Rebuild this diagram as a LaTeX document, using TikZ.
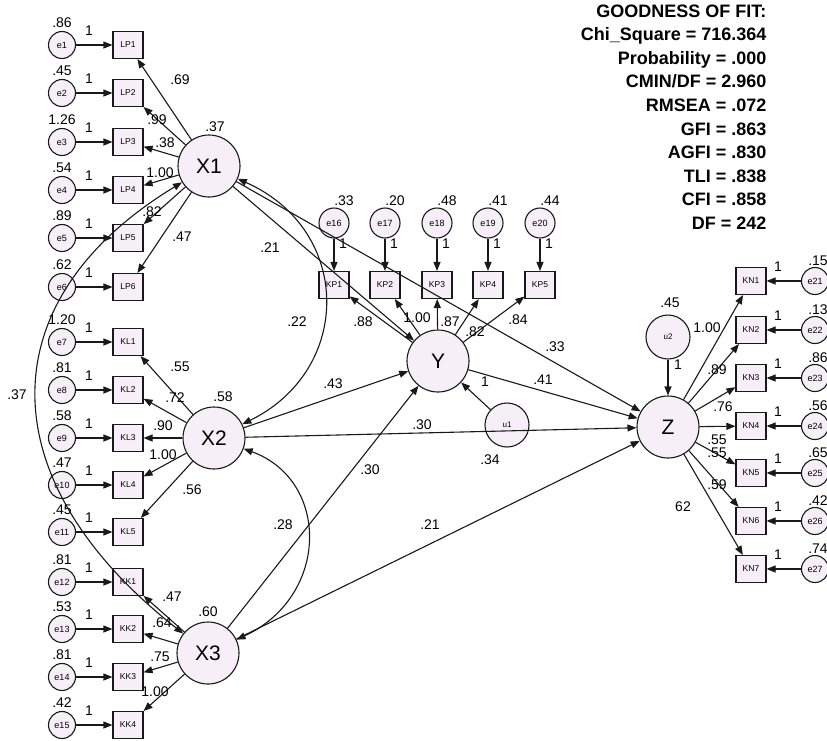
\documentclass[tikz,border=0pt]{standalone}
\usepackage{fontspec}
\setmainfont{Liberation Sans}
\usetikzlibrary{arrows.meta}
\definecolor{fillc}{RGB}{247,239,247}
\definecolor{linec}{RGB}{25,25,25}
\begin{document}
\begin{tikzpicture}[x=1pt, y=-1pt, line width=1.1pt, draw=linec,
	lat/.style = {circle, draw, fill=fillc, minimum size=62pt, inner sep=0pt, font=\fontsize{21}{24}\selectfont},
	errc/.style = {circle, draw, fill=fillc, minimum size=27pt, inner sep=0pt, font=\fontsize{9}{10}\selectfont},
	errt/.style = {errc, minimum size=30pt},
	dist/.style = {circle, draw, fill=fillc, minimum size=44pt, inner sep=0pt, font=\fontsize{8}{9}\selectfont},
	obs/.style = {rectangle, draw, fill=fillc, minimum width=30pt, minimum height=27pt, inner sep=0pt, font=\fontsize{8.5}{9}\selectfont},
	num/.style = {inner sep=0pt, font=\fontsize{14}{16}\selectfont},
	arr/.style = {draw=linec, -{Triangle[length=9pt,width=7pt]}},
	cov/.style = {draw=linec, {Triangle[length=9pt,width=7pt]}-{Triangle[length=9pt,width=7pt]}}]
	\useasboundingbox[fill=white] (0,0) rectangle (827,740);
	% latent variables
	\node[lat] (X1) at (209,166) {X1};
	\node[lat] (X2) at (214,438) {X2};
	\node[lat] (X3) at (208,653) {X3};
	\node[lat] (Y) at (438,361) {Y};
	\node[lat] (Z) at (668,427) {Z};
	\node[dist] (u1) at (507,425) {u1};
	\node[dist] (u2) at (668,337) {u2};
	\node[num] (vX1) at (215,127) {.37};
	\node[num] (vX2) at (223,397) {.58};
	\node[num] (vX3) at (208,612) {.60};
	\node[num] (vu1) at (490,460) {.34};
	\node[num] (vu2) at (670,303) {.45};
	% left indicators
	\foreach \i/\b/\yy/\v in {1/LP1/45/.86, 2/LP2/93/.45, 3/LP3/142/1.26, 4/LP4/190/.54, 5/LP5/238/.89, 6/LP6/287/.62, 7/KL1/342/1.20, 8/KL2/390/.81, 9/KL3/438/.58, 10/KL4/485/.47, 11/KL5/532/.45, 12/KK1/582/.81, 13/KK2/629/.53, 14/KK3/677/.81, 15/KK4/725/.42} {
		\node[errc] (e\i) at (62,\yy) {e\i};
		\node[obs] (\b) at (128,\yy) {\b};
		\node[num] (v\i) at (62,\yy-22) {\v};
		\node[num] (w\i) at (89,\yy-14) {1};
		\draw[arr] (e\i) -- (\b);
	}
	\foreach \b in {LP1,LP2,LP3,LP4,LP5,LP6} \draw[arr] (X1) -- (\b);
	\foreach \b in {KL1,KL2,KL3,KL4,KL5} \draw[arr] (X2) -- (\b);
	\foreach \b in {KK1,KK2,KK3,KK4} \draw[arr] (X3) -- (\b);
	% top indicators of Y
	\foreach \i/\x/\v [count=\k] in {16/334/.33, 17/385/.20, 18/437/.48, 19/488/.41, 20/540/.44} {
		\node[errt] (e\i) at (\x,223) {e\i};
		\node[obs] (KP\k) at (\x,285) {KP\k};
		\node[num] (v\i) at (\x+10,201) {\v};
		\node[num] (w\i) at (\x+9,244) {1};
		\draw[arr] (e\i) -- (KP\k);
		\draw[arr] (Y) -- (KP\k);
	}
	% right indicators of Z
	\foreach \i/\yy/\v [count=\k] in {21/281/.15, 22/330/.13, 23/378/.86, 24/426/.56, 25/473/.65, 26/521/.42, 27/569/.74} {
		\node[errc] (e\i) at (815,\yy) {e\i};
		\node[obs] (KN\k) at (751,\yy) {KN\k};
		\node[num] (v\i) at (818,\yy-20) {\v};
		\node[num] (w\i) at (778,\yy-14) {1};
		\draw[arr] (e\i) -- (KN\k);
		\draw[arr] (Z) -- (KN\k);
	}
	% structural paths
	\draw[arr] (X1) -- (Y);
	\draw[arr] (X1) -- (Z);
	\draw[arr] (X2) -- (Y);
	\draw[arr] (X2) -- (Z);
	\draw[arr] (X3) -- (Y);
	\draw[arr] (X3) -- (Z);
	\draw[arr] (Y) -- (Z);
	\draw[arr] (u1) -- (Y);
	\draw[arr] (u2) -- (Z);
	% covariances
	\draw[cov] (X1) .. controls (-12,300) and (-12,480) .. (X3);
	\draw[cov] (X1) .. controls (353,230) and (353,370) .. (X2);
	\draw[cov] (X2) .. controls (330,480) and (330,596) .. (X3);
	% estimates
	\node[num] (l1) at (180,80) {.69};
	\node[num] (l2) at (157,120) {.99};
	\node[num] (l3) at (165,143) {.38};
	\node[num] (l4) at (160,173) {1.00};
	\node[num] (l5) at (152,212) {.82};
	\node[num] (l6) at (182,237) {.47};
	\node[num] (l7) at (180,367) {.55};
	\node[num] (l8) at (175,398) {.72};
	\node[num] (l9) at (163,426) {.90};
	\node[num] (l10) at (163,455) {1.00};
	\node[num] (l11) at (192,490) {.56};
	\node[num] (l12) at (172,597) {.47};
	\node[num] (l13) at (162,623) {.64};
	\node[num] (l14) at (160,657) {.75};
	\node[num] (l15) at (155,692) {1.00};
	\node[num] (l16) at (363,322) {.88};
	\node[num] (l17) at (417,318) {1.00};
	\node[num] (l18) at (450,322) {.87};
	\node[num] (l19) at (475,332) {.82};
	\node[num] (l20) at (518,320) {.84};
	\node[num] (l21) at (707,328) {1.00};
	\node[num] (l22) at (717,370) {.89};
	\node[num] (l23) at (723,407) {.76};
	\node[num] (l24) at (717,440) {.55};
	\node[num] (l25) at (717,453) {.55};
	\node[num] (l26) at (717,485) {.59};
	\node[num] (l27) at (683,507) {62};
	\node[num] (s1) at (270,248) {.21};
	\node[num] (s2) at (555,347) {.33};
	\node[num] (s3) at (333,384) {.43};
	\node[num] (s4) at (422,425) {.30};
	\node[num] (s5) at (370,470) {.30};
	\node[num] (s6) at (430,525) {.21};
	\node[num] (s7) at (543,380) {.41};
	\node[num] (s8) at (485,382) {1};
	\node[num] (s9) at (678,365) {1};
	\node[num] (c1) at (17,395) {.37};
	\node[num] (c2) at (297,322) {.22};
	\node[num] (c3) at (283,525) {.28};
	% fit indices
	\node[anchor=north east, align=right, inner sep=0pt, font=\bfseries\fontsize{18}{23.6}\selectfont] (fit) at (767,4)
		{GOODNESS OF FIT:\\Chi\_Square = 716.364\\Probability = .000\\CMIN/DF = 2.960\\RMSEA = .072\\GFI = .863\\AGFI = .830\\TLI = .838\\CFI = .858\\DF = 242};
\end{tikzpicture}
\end{document}
